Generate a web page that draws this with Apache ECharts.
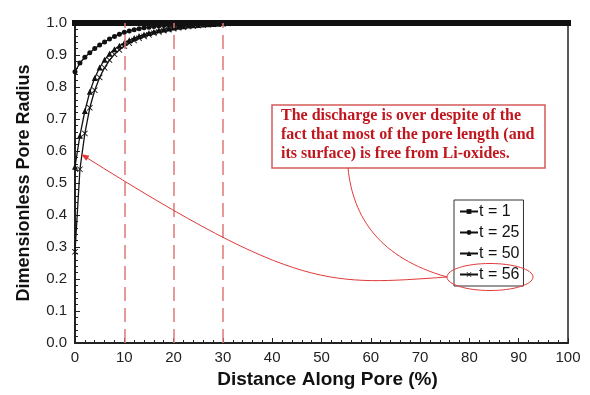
<!DOCTYPE html>
<html>
<head>
<meta charset="utf-8">
<script src="https://cdn.jsdelivr.net/npm/echarts@6/dist/echarts.min.js"></script>
<style>
html,body{margin:0;padding:0;background:#fff;}
#chart{width:590px;height:395px;}
</style>
</head>
<body>
<div id="chart"></div>
<script>
// Distance along pore (%) sampling positions
const distance = [0,1,2,3,4,5,6,7,8,9,10,11,12,13,14,15,16,17,18,19,20,21,22,23,24,25,26,27,28,29,30,
  31,32,33,34,35,36,37,38,39,40,41,42,43,44,45,46,47,48,49,50,51,52,53,54,55,56,57,58,59,60,
  61,62,63,64,65,66,67,68,69,70,71,72,73,74,75,76,77,78,79,80,81,82,83,84,85,86,87,88,89,90,
  91,92,93,94,95,96,97,98,99,100];

// Dimensionless pore radius, t = 1 (all along the pore)
const radiusT1 = [1,1,1,1,1,1,1,1,1,1,1,1,1,1,1,1,1,1,1,1,1,1,1,1,1,1,1,1,1,1,1,
  1,1,1,1,1,1,1,1,1,1,1,1,1,1,1,1,1,1,1,1,1,1,1,1,1,1,1,1,1,1,
  1,1,1,1,1,1,1,1,1,1,1,1,1,1,1,1,1,1,1,1,1,1,1,1,1,1,1,1,1,1,
  1,1,1,1,1,1,1,1,1,1];
// t = 25 (distance 0..40)
const radiusT25 = [0.848,0.875,0.893,0.907,0.920,0.931,0.941,0.950,0.958,0.965,0.971,0.975,0.979,0.982,0.985,0.987,0.989,0.991,0.992,0.993,0.994,
  0.995,0.996,0.997,0.997,0.998,0.998,0.999,0.999,0.999,1.0,1,1,1,1,1,1,1,1,1,1];
// t = 50
const radiusT50 = [0.551,0.648,0.725,0.785,0.828,0.861,0.885,0.904,0.918,0.929,0.938,0.946,0.953,0.959,0.964,0.969,0.973,0.977,0.980,0.983,0.986,
  0.988,0.990,0.992,0.993,0.994,0.995,0.996,0.997,0.998,0.999,1,1,1,1,1,1,1,1,1,1];
// t = 56
const radiusT56 = [0.285,0.543,0.655,0.735,0.790,0.830,0.860,0.884,0.902,0.916,0.928,0.937,0.945,0.952,0.958,0.963,0.968,0.972,0.976,0.979,0.982,
  0.985,0.987,0.989,0.991,0.992,0.994,0.995,0.996,0.997,0.998,0.999,1,1,1,1,1,1,1,1,1];

const seriesNames = ['t = 1','t = 25','t = 50','t = 56'];
const guideLines = [10, 20, 30];
const xTicks = {min:0, max:100, interval:10};
const yTicks = {min:0, max:1, interval:0.1};
const note = 'The discharge is over despite of the\nfact that most of the pore length (and\nits surface) is free from Li-oxides.';

function pairs(vals){ return vals.map((v,i)=>[distance[i], v]); }

const font = '"Liberation Sans", Arial, sans-serif';
const xPath = 'path://M0,1 L1,0 L5,4 L9,0 L10,1 L6,5 L10,9 L9,10 L5,6 L1,10 L0,9 L4,5 Z';

const chart = echarts.init(document.getElementById('chart'), null, {renderer:'canvas'});
const baseSeries = (name, vals, symbol, size) => ({
  name, type:'line', data:pairs(vals), symbol, symbolSize:size, showSymbol:true,
  lineStyle:{color:'#111', width:1.3}, itemStyle:{color:'#111'}, animation:false, z:3
});
const s1 = baseSeries(seriesNames[0], radiusT1, 'rect', 6);
s1.markLine = {
  silent:true, symbol:'none', label:{show:false},
  lineStyle:{color:'#e07878', type:[14,7], width:1.5},
  data: guideLines.map(v=>({xAxis:v}))
};
s1.z = 4;
chart.setOption({
  backgroundColor:'#fff',
  animation:false,
  grid:{left:75, right:22, top:23, bottom:52, show:true, borderColor:'#222', borderWidth:1.5},
  legend:{
    orient:'vertical', left:454, top:200, data:seriesNames,
    itemWidth:18, itemHeight:6, itemGap:4, padding:[3,4,3,5],
    borderColor:'#333', borderWidth:1, backgroundColor:'#fff',
    textStyle:{fontFamily:font, fontSize:16, lineHeight:17, color:'#111', padding:[0,0,0,-4]}
  },
  xAxis:{
    type:'value', min:xTicks.min, max:xTicks.max, interval:xTicks.interval,
    name:'Distance Along Pore (%)', nameLocation:'middle', nameGap:25,
    nameTextStyle:{fontFamily:font, fontSize:19, fontWeight:'bold', color:'#111', padding:[0,0,0,12]},
    axisLine:{lineStyle:{color:'#222', width:2}},
    axisTick:{inside:true, length:5, lineStyle:{color:'#222'}},
    minorTick:{show:true, splitNumber:5, length:3, lineStyle:{color:'#222'}},
    axisLabel:{fontFamily:font, fontSize:15, color:'#222', margin:7},
    splitLine:{show:false}
  },
  yAxis:{
    type:'value', min:yTicks.min, max:yTicks.max, interval:yTicks.interval,
    name:'Dimensionless Pore Radius', nameLocation:'middle', nameGap:42,
    nameTextStyle:{fontFamily:font, fontSize:18, fontWeight:'bold', color:'#111'},
    axisLine:{lineStyle:{color:'#222', width:2}},
    axisTick:{inside:true, length:5, lineStyle:{color:'#222'}},
    minorTick:{show:true, splitNumber:5, length:3, lineStyle:{color:'#222'}},
    axisLabel:{fontFamily:font, fontSize:15, color:'#222', margin:8, formatter:v=>v.toFixed(1)},
    splitLine:{show:false}
  },
  series:[
    s1,
    baseSeries(seriesNames[1], radiusT25, 'circle', 5),
    baseSeries(seriesNames[2], radiusT50, 'triangle', 6),
    baseSeries(seriesNames[3], radiusT56, xPath, 6)
  ],
  graphic:[
    {type:'rect', z:100, shape:{x:272, y:105, width:273, height:63},
     style:{fill:'#fff', stroke:'#d45a5a', lineWidth:1.5}},
    {type:'text', z:101, left:281, top:106,
     style:{text:note, font:'bold 16px "Liberation Serif", "Times New Roman", serif', fill:'#c0161e', lineHeight:19}},
    {type:'bezierCurve', z:100, shape:{x1:348, y1:168, cpx1:353, cpy1:218, cpx2:380, cpy2:258, x2:447, y2:277},
     style:{stroke:'#e03a3a', lineWidth:1, fill:null}},
    {type:'bezierCurve', z:100, shape:{x1:84, y1:156, cpx1:300, cpy1:292, cpx2:330, cpy2:285, x2:447, y2:277},
     style:{stroke:'#e03a3a', lineWidth:1, fill:null}},
    {type:'polygon', z:100, shape:{points:[[81,154],[89.4,155.7],[86.2,160.8]]},
     style:{fill:'#e03a3a'}},
    {type:'ellipse', z:100, shape:{cx:490, cy:277, rx:43, ry:13.5},
     style:{stroke:'#e03a3a', lineWidth:1, fill:null}}
  ]
});
</script>
</body>
</html>
